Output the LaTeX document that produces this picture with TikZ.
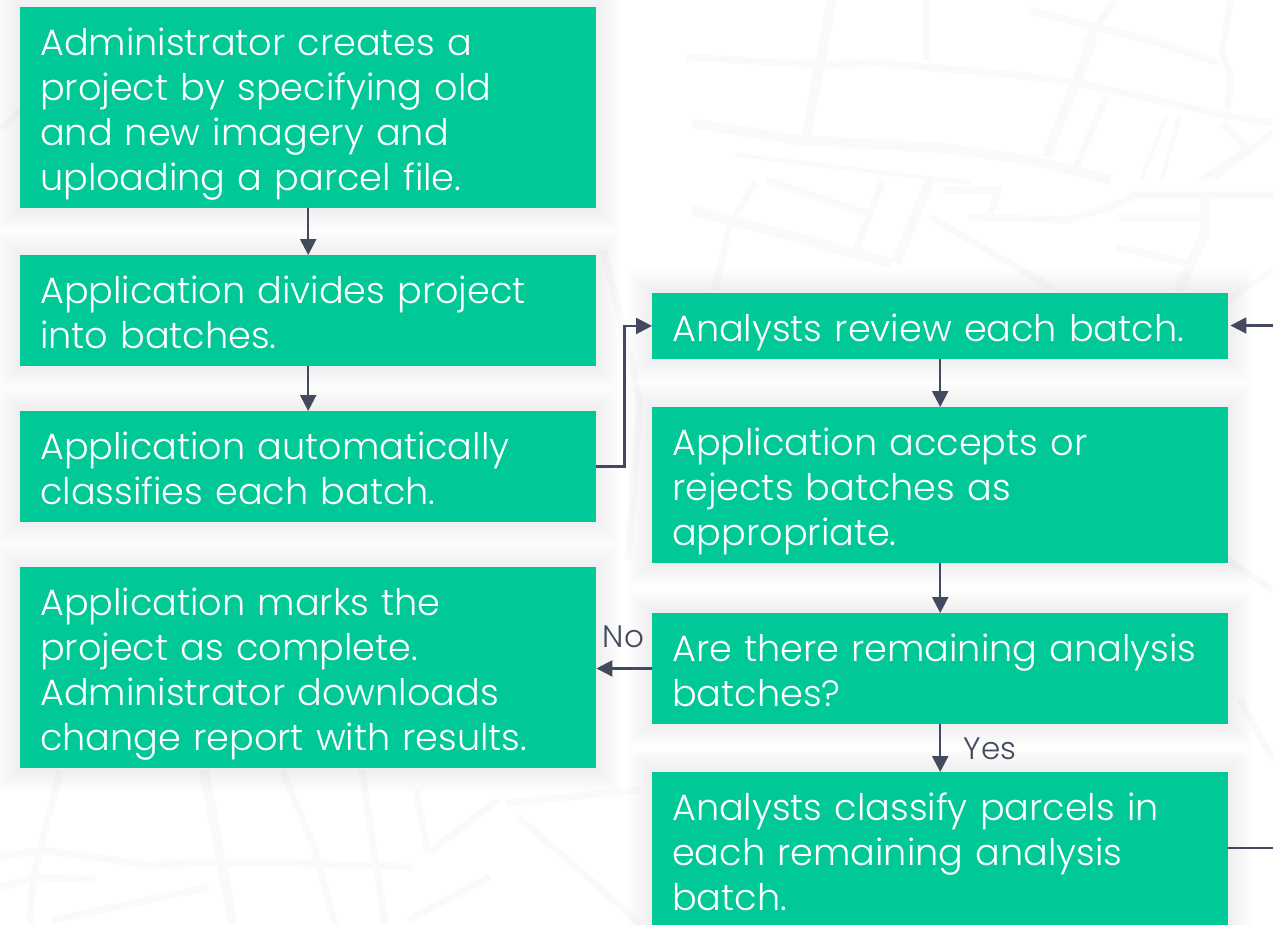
\documentclass[tikz,border=0pt]{standalone}
\usepackage{fontspec}
\setmainfont{Poppins}[UprightFont={* Light}]
\definecolor{boxgreen}{HTML}{00C896}
\definecolor{arrowslate}{HTML}{434A5E}
\definecolor{roadgrey}{HTML}{FAFAFA}
\usetikzlibrary{arrows.meta}
\tikzset{
  stepbox/.style={fill=boxgreen,text=white,anchor=north west,minimum width=576pt,text width=536pt,inner xsep=20pt,inner ysep=0pt,align=left,font=\fontsize{36.6}{45}\selectfont,
    execute at begin node={\rule{0pt}{48pt}},execute at end node={\rule[-17.5pt]{0pt}{17.5pt}}},
  link/.style={draw=arrowslate,line width=2.4pt,-{Triangle[length=16pt,width=16pt]}},
  tag/.style={text=arrowslate,font=\fontsize{31}{36}\selectfont,inner sep=0pt},
  road/.style={draw=roadgrey,line width=7pt,line join=round},
  lane/.style={draw=roadgrey,line width=4pt,line join=round,line cap=round}
}
\begin{document}
\begin{tikzpicture}[x=1pt,y=-1pt]
  \useasboundingbox (0,0) rectangle (1273,924);
  \clip (0,0) rectangle (1273,924);
  % map behind the boxes
  \draw[road] (686,57) -- (819,65) -- (879,63) -- (1016,75) -- (1072,82) -- (1158,100) -- (1222,115) -- (1273,123);
  \draw[road,line width=10pt] (692,123) -- (797,140) -- (943,148) -- (1029,160) -- (1111,180);
  \draw[lane] (737,155) -- (969,183);
  \draw[road,line width=10pt] (832,0) -- (806,137);
  \draw[road] (926,0) -- (926,60);
  \draw[road,line width=10pt] (1094,37) -- (1046,157);
  \draw[road] (1029,10) -- (1158,43) -- (1218,63);
  \draw[road] (1115,0) -- (1085,43);
  \draw[road,line width=10pt] (692,210) -- (892,263);
  \draw[road] (930,217) -- (1051,287);
  \draw[road] (755,182) -- (729,227) -- (715,290);
  \draw[road] (767,180) -- (866,213);
  \draw[road] (883,180) -- (853,257);
  \draw[road,line width=10pt] (930,180) -- (896,263);
  \draw[road] (943,190) -- (999,190) -- (990,213);
  \draw[road] (969,217) -- (1068,220) -- (1111,207) -- (1136,195) -- (1273,195);
  \draw[road] (1119,218) -- (1201,218);
  \draw[road,line width=10pt] (1205,197) -- (1205,233) -- (1179,290);
  \draw[road] (1115,247) -- (1188,263);
  \draw[road] (1106,97) -- (1076,167);
  \draw[lane] (1166,117) -- (1141,180);
  \draw[lane] (1179,117) -- (1162,180);
  \draw[road] (1222,123) -- (1248,150) -- (1201,180);
  \draw[road] (1273,133) -- (1214,177);
  \draw[road] (1231,0) -- (1222,50) -- (1231,80) -- (1227,110);
  \draw[road] (1228,300) -- (1273,270);
  \draw[road] (1228,560) -- (1273,590);
  \draw[road] (1240,700) -- (1273,760);
  \draw[road] (604,250) -- (640,400) -- (628,560);
  \draw[road] (0,857) -- (41,850) -- (94,857) -- (147,865) -- (196,863) -- (286,863) -- (412,867);
  \draw[road,line width=10pt] (204,770) -- (233,924);
  \draw[road] (282,770) -- (314,847) -- (335,924);
  \draw[road] (416,790) -- (428,853);
  \draw[road] (498,800) -- (428,853);
  \draw[road] (506,803) -- (640,790);
  \draw[road] (518,817) -- (583,873) -- (640,924);
  \draw[road] (0,887) -- (33,877) -- (95,880);
  \draw[road] (53,920) -- (163,897) -- (208,887);
  \draw[road] (490,877) -- (408,920);
  \draw[road] (60,770) -- (33,877) -- (30,924);
  \draw[road] (362,770) -- (385,924);
  \draw[road] (0,130) -- (20,110);
  % soft shadow round the boxes
  \foreach \xa/\ya/\xb/\yb in {20/7/596/208,20/255/596/365,20/411/596/521,20/567/596/768,652/293/1228/358,652/407/1228/563,652/613/1228/723,652/772/1228/990}
    \foreach \grow in {24,21,18,15,12,9,6,3}
      \fill[black,opacity=0.007] (\xa-\grow,\ya-\grow) rectangle (\xb+\grow,\yb+\grow);
  % left column
  \node[stepbox] (create) at (20,7) {Administrator creates a\\project by specifying old\\and new imagery and\\uploading a parcel file.};
  \node[stepbox] (divide) at (20,255) {Application divides project\\into batches.};
  \node[stepbox] (classify) at (20,411) {Application automatically\\classifies each batch.};
  \node[stepbox] (complete) at (20,567) {Application marks the\\project as complete.\\Administrator downloads\\change report with results.};
  % right column
  \node[stepbox] (review) at (652,293) {Analysts review each batch.};
  \node[stepbox] (accept) at (652,407) {Application accepts or\\rejects batches as\\appropriate.};
  \node[stepbox] (remain) at (652,613) {Are there remaining analysis\\batches?};
  \node[stepbox] (parcels) at (652,772) {Analysts classify parcels in\\each remaining analysis\\batch.};
  % the loop runs off the page on the right
  \coordinate (looptop) at (1273,325.5);
  \coordinate (loopbot) at (1273,848);
  \draw[link] (create) -- (divide);
  \draw[link] (divide) -- (classify);
  \draw[link] (classify.east) -- ++(28,0) |- (review.west);
  \draw[link] (review) -- (accept);
  \draw[link] (accept) -- (remain);
  \draw[link] (remain.west) -- (remain.west -| complete.east);
  \draw[link] (remain) -- (parcels);
  \draw[draw=arrowslate,line width=2.4pt] (parcels.east |- loopbot) -- (loopbot);
  \draw[link,shorten >=2pt] (looptop) -- (review.east |- looptop);
  \node[tag] (nolabel) at (623.5,637) {No};
  \node[tag] (yeslabel) at (990,749) {Yes};
\end{tikzpicture}
\end{document}
